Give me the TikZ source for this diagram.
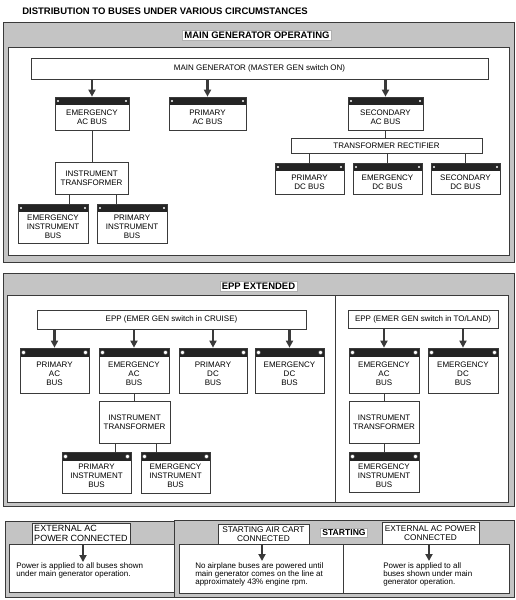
\documentclass[tikz,border=0pt]{standalone}
\usepackage{fontspec}
\setmainfont{Liberation Sans}
\usetikzlibrary{arrows.meta}
\definecolor{ink}{HTML}{3A3A3A}
\definecolor{strip}{HTML}{242424}
\definecolor{shade}{HTML}{C4C4C4}
\newcommand{\bustop}{\rule{0pt}{13pt}}

\tikzset{
  plain/.style={draw=ink, fill=white, line width=0.7pt, align=center, inner sep=0pt,
    font=\fontsize{8}{9}\selectfont},
  bus/.style={plain,
    path picture={
      \fill[strip] (path picture bounding box.north west) rectangle ([yshift=-8pt]path picture bounding box.north east);
      \fill[white] ([xshift=3pt,yshift=-4pt]path picture bounding box.north west) circle (1.1pt);
      \fill[white] ([xshift=-3pt,yshift=-4pt]path picture bounding box.north east) circle (1.1pt);}},
  bigbus/.style={plain,
    path picture={
      \fill[strip] (path picture bounding box.north west) rectangle ([yshift=-9pt]path picture bounding box.north east);
      \filldraw[fill=white, draw=ink, line width=0.4pt] ([xshift=3.5pt,yshift=-4.5pt]path picture bounding box.north west) circle (2pt);
      \filldraw[fill=white, draw=ink, line width=0.4pt] ([xshift=-3.5pt,yshift=-4.5pt]path picture bounding box.north east) circle (2pt);}},
  frame/.style={draw=ink, fill=shade, line width=0.8pt},
  pane/.style={draw=ink, fill=white, line width=0.8pt},
  tag/.style={fill=white, draw=ink!40, line width=0.4pt, inner xsep=2pt, inner ysep=1.5pt,
    font=\fontsize{9.5}{10}\selectfont\bfseries},
  tagbox/.style={draw=ink, fill=white, line width=0.7pt, align=center, inner sep=0pt,
    font=\fontsize{8.3}{9.5}\selectfont},
  note/.style={align=left, inner sep=0pt, anchor=north west, font=\fontsize{8}{8}\selectfont},
  pow/.style={->, draw=ink, line width=2.2pt},
  wire/.style={draw=ink, line width=0.7pt}
}

\begin{document}
\begin{tikzpicture}[
            x = 1pt, y = -1pt, % pixel grid of the page
            > = {Triangle[width=7pt,length=7pt]},
            semithick
        ]
\useasboundingbox (0,0) rectangle (516,600);

\node[anchor=west, inner sep=0pt, font=\fontsize{9.5}{10}\selectfont\bfseries] (head) at (22,11) {DISTRIBUTION TO BUSES UNDER VARIOUS CIRCUMSTANCES};

% main generator operating
\draw[frame] (3,22) rectangle (514,262);
\draw[pane] (8,47) rectangle (509,255);
\node[tag] (mgo) at (257,35) {MAIN GENERATOR OPERATING};

\node[plain, minimum width=457, minimum height=21] (mg) at (259.5,68.5) {MAIN GENERATOR (MASTER GEN switch ON)};
\node[bus, minimum width=74, minimum height=33] (eac) at (92,113.5) {\bustop EMERGENCY\\AC BUS};
\node[bus, minimum width=77, minimum height=33] (pac) at (207.5,113.5) {\bustop PRIMARY\\AC BUS};
\node[bus, minimum width=75, minimum height=33] (sac) at (385.5,113.5) {\bustop SECONDARY\\AC BUS};
\node[plain, minimum width=73, minimum height=32] (itr) at (91.5,178) {INSTRUMENT\\TRANSFORMER};
\node[bus, minimum width=70, minimum height=39] (eib) at (53,223.5) {\bustop EMERGENCY\\INSTRUMENT\\BUS};
\node[bus, minimum width=70, minimum height=39] (pib) at (132,223.5) {\bustop PRIMARY\\INSTRUMENT\\BUS};
\node[plain, minimum width=191, minimum height=15] (trr) at (386.5,145.5) {TRANSFORMER RECTIFIER};
\node[bus, minimum width=69, minimum height=31] (pdc) at (309.5,178.5) {\bustop PRIMARY\\DC BUS};
\node[bus, minimum width=69, minimum height=31] (edc) at (387.5,178.5) {\bustop EMERGENCY\\DC BUS};
\node[bus, minimum width=69, minimum height=31] (sdc) at (465.5,178.5) {\bustop SECONDARY\\DC BUS};

\foreach \b in {eac,pac,sac}
  \draw[pow] (mg.south -| \b.north) -- (\b.north);
\draw[wire] (eac.south) -- (eac.south |- itr.north);
\draw[wire] ([xshift=-22pt]itr.south) -- ([xshift=-22pt]itr.south |- eib.north);
\draw[wire] ([xshift=25pt]itr.south) -- ([xshift=25pt]itr.south |- pib.north);
\draw[wire] (sac.south) -- (sac.south |- trr.north);
\foreach \b in {pdc,edc,sdc}
  \draw[wire] (trr.south -| \b.north) -- (\b.north);

% epp extended
\draw[frame] (3,273) rectangle (514,506);
\draw[pane] (7,295) rectangle (508,502);
\draw[wire] (335,295) -- (335,502);
\node[tag] (eppx) at (258.5,286) {EPP EXTENDED};

\node[plain, minimum width=269, minimum height=19] (eppc) at (171.5,319.5) {EPP (EMER GEN switch in CRUISE)};
\node[bigbus, minimum width=69, minimum height=45] (pac2) at (54.5,370.5) {\bustop PRIMARY\\AC\\BUS};
\node[bigbus, minimum width=70, minimum height=45] (eac2) at (134,370.5) {\bustop EMERGENCY\\AC\\BUS};
\node[bigbus, minimum width=68, minimum height=45] (pdc2) at (213,370.5) {\bustop PRIMARY\\DC\\BUS};
\node[bigbus, minimum width=69, minimum height=45] (edc2) at (289.5,370.5) {\bustop EMERGENCY\\DC\\BUS};
\node[plain, minimum width=71, minimum height=42] (itr2) at (134.5,422) {INSTRUMENT\\TRANSFORMER};
\node[bigbus, minimum width=69, minimum height=41] (pib2) at (96.5,472.5) {\bustop PRIMARY\\INSTRUMENT\\BUS};
\node[bigbus, minimum width=69, minimum height=41] (eib2) at (175.5,472.5) {\bustop EMERGENCY\\INSTRUMENT\\BUS};

\foreach \b in {pac2,eac2,pdc2,edc2}
  \draw[pow] (eppc.south -| \b.north) -- (\b.north);
\draw[wire] (eac2.south) -- (eac2.south |- itr2.north);
\draw[wire] ([xshift=-19pt]itr2.south) -- ([xshift=-19pt]itr2.south |- pib2.north);
\draw[wire] ([xshift=22pt]itr2.south) -- ([xshift=22pt]itr2.south |- eib2.north);

\node[plain, minimum width=150, minimum height=18] (eppt) at (423,319.5) {EPP (EMER GEN switch in TO/LAND)};
\node[bigbus, minimum width=70, minimum height=45] (eac3) at (384,370.5) {\bustop EMERGENCY\\AC\\BUS};
\node[bigbus, minimum width=70, minimum height=45] (edc3) at (463,370.5) {\bustop EMERGENCY\\DC\\BUS};
\node[plain, minimum width=70, minimum height=42] (itr3) at (384,422) {INSTRUMENT\\TRANSFORMER};
\node[bigbus, minimum width=70, minimum height=40] (eib3) at (384,472) {\bustop EMERGENCY\\INSTRUMENT\\BUS};

\foreach \b in {eac3,edc3}
  \draw[pow] (eppt.south -| \b.north) -- (\b.north);
\draw[wire] (eac3) -- (itr3);
\draw[wire] (itr3) -- (eib3);

% external ac power
\draw[frame] (5,521) rectangle (222,597);
\draw[pane] (9,544) rectangle (218,592);
\node[tagbox, align=left, minimum width=98, minimum height=21, font=\fontsize{9}{10}\selectfont] (xac) at (81,533.5) {EXTERNAL AC\\POWER CONNECTED};
\coordinate (xacend) at (83,562);
\draw[pow] (xac.south -| xacend) -- (xacend);
\node[note] (xacnote) at (16,562) {Power is applied to all buses shown\\under main generator operation.};

% starting
\draw[frame] (174,520) rectangle (514,597);
\draw[pane] (179,544) rectangle (343,593);
\draw[pane] (343,544) rectangle (509,593);
\node[tagbox, minimum width=91, minimum height=20] (cart) at (263.5,534) {STARTING AIR CART\\CONNECTED};
\node[tag, font=\fontsize{8.6}{10}\selectfont\bfseries] (start) at (344,533) {STARTING};
\node[tagbox, minimum width=97, minimum height=22] (xacp) at (430.5,533) {EXTERNAL AC POWER\\CONNECTED};
\coordinate (cartend) at (262,561);
\coordinate (xacpend) at (429,561);
\draw[pow] (cart.south -| cartend) -- (cartend);
\draw[pow] (xacp.south -| xacpend) -- (xacpend);
\node[note] (cartnote) at (195,562) {No airplane buses are powered until\\main generator comes on the line at\\approximately 43\% engine rpm.};
\node[note] (xacpnote) at (383,562) {Power is applied to all\\buses shown under main\\generator operation.};
\end{tikzpicture}
\end{document}
